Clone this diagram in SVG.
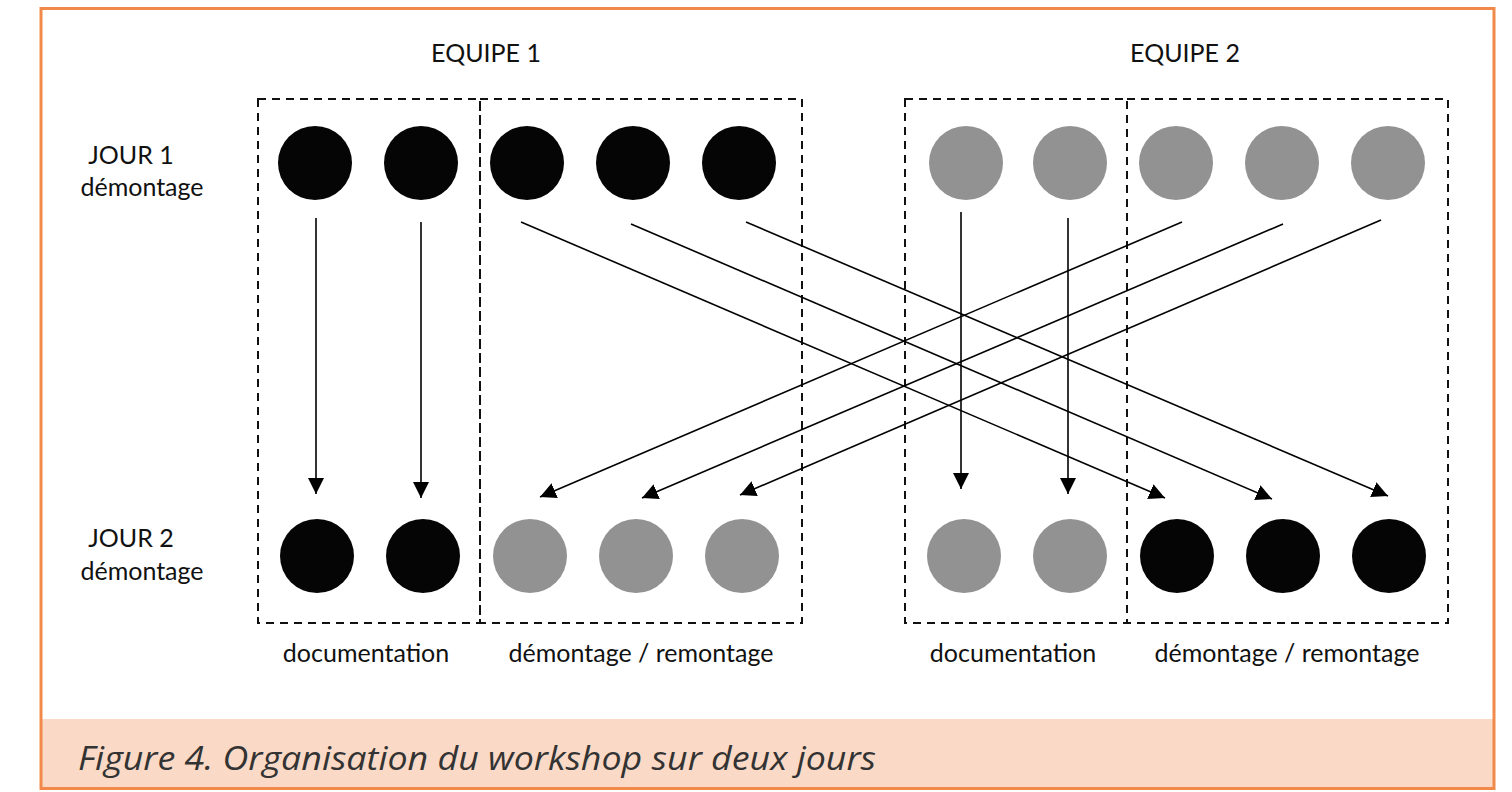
<svg xmlns="http://www.w3.org/2000/svg" width="1512" height="792" viewBox="0 0 1512 792">
<defs>
<marker id="ah" viewBox="0 0 10 10" refX="10" refY="5" markerWidth="16" markerHeight="16" markerUnits="userSpaceOnUse" orient="auto">
<path d="M0,0 L10,5 L0,10 Z" fill="#000"/>
</marker>
</defs>
<style>
.lbl{font-family:Lato,"Open Sans",sans-serif;font-size:25px;fill:#111;text-anchor:middle}
.box{fill:none;stroke:#111;stroke-width:2;stroke-dasharray:8 6}
.blk{fill:#050505}
.gry{fill:#929292}
.con line{stroke:#000;stroke-width:1.6;marker-end:url(#ah)}
.cap{font-family:"Open Sans",sans-serif;font-style:italic;font-size:32px;fill:#333}
</style>
<rect x="0" y="0" width="1512" height="792" fill="#fff"/>
<rect x="41" y="719" width="1453" height="69" fill="#FAD9C6"/>
<rect x="41" y="8.5" width="1453" height="780" fill="none" stroke="#F0894A" stroke-width="3"/>
<text class="cap" x="78" y="770" textLength="798" lengthAdjust="spacingAndGlyphs">Figure 4. Organisation du workshop sur deux jours</text>

<g id="labels">
<text class="lbl" x="486" y="62">EQUIPE 1</text>
<text class="lbl" x="1185" y="62">EQUIPE 2</text>
<text class="lbl" x="131" y="164">JOUR 1</text>
<text class="lbl" x="142" y="196">démontage</text>
<text class="lbl" x="131" y="547">JOUR 2</text>
<text class="lbl" x="142" y="580">démontage</text>
<text class="lbl" x="366" y="662">documentation</text>
<text class="lbl" x="641" y="662">démontage / remontage</text>
<text class="lbl" x="1013" y="662">documentation</text>
<text class="lbl" x="1287" y="662">démontage / remontage</text>
</g>

<g id="boxes">
<rect class="box" x="258" y="99" width="222" height="524"/>
<rect class="box" x="480" y="99" width="322" height="524"/>
<rect class="box" x="905" y="99" width="222" height="524"/>
<rect class="box" x="1127" y="99" width="321" height="524"/>
</g>

<g id="team1-day1">
<circle class="blk" cx="315" cy="163" r="37"/>
<circle class="blk" cx="421" cy="163" r="37"/>
<circle class="blk" cx="527" cy="163" r="37"/>
<circle class="blk" cx="633" cy="163" r="37"/>
<circle class="blk" cx="739" cy="163" r="37"/>
</g>
<g id="team2-day1">
<circle class="gry" cx="966" cy="163" r="37"/>
<circle class="gry" cx="1070" cy="163" r="37"/>
<circle class="gry" cx="1176" cy="163" r="37"/>
<circle class="gry" cx="1282" cy="163" r="37"/>
<circle class="gry" cx="1388" cy="163" r="37"/>
</g>
<g id="team1-day2">
<circle class="blk" cx="317" cy="556" r="37"/>
<circle class="blk" cx="423" cy="556" r="37"/>
<circle class="gry" cx="530" cy="556" r="37"/>
<circle class="gry" cx="636" cy="556" r="37"/>
<circle class="gry" cx="742" cy="556" r="37"/>
</g>
<g id="team2-day2">
<circle class="gry" cx="964" cy="556" r="37"/>
<circle class="gry" cx="1070" cy="556" r="37"/>
<circle class="blk" cx="1177" cy="556" r="37"/>
<circle class="blk" cx="1283" cy="556" r="37"/>
<circle class="blk" cx="1389" cy="556" r="37"/>
</g>

<g id="connectors" class="con">
<line x1="316" y1="218" x2="316" y2="494"/>
<line x1="421" y1="222" x2="421" y2="498"/>
<line x1="961" y1="212" x2="961" y2="489"/>
<line x1="1068" y1="218" x2="1068" y2="494"/>
<line x1="521" y1="222" x2="1165" y2="498"/>
<line x1="631" y1="224" x2="1272" y2="499"/>
<line x1="746" y1="222" x2="1388" y2="496"/>
<line x1="1182" y1="222" x2="540" y2="497"/>
<line x1="1283" y1="224" x2="642" y2="498"/>
<line x1="1381" y1="220" x2="740" y2="495"/>
</g>
</svg>
